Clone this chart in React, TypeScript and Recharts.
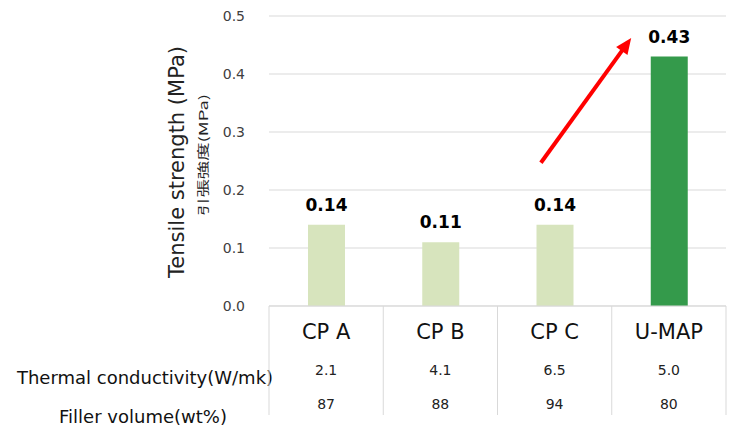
import { BarChart, Bar, Cell, XAxis, YAxis, CartesianGrid, LabelList, ReferenceLine, Customized } from 'recharts';

// 材料名と各値
const categories = ['CP A', 'CP B', 'CP C', 'U-MAP'];
const tensileStrength = [0.14, 0.11, 0.14, 0.43];
const thermalConductivity = ['2.1', '4.1', '6.5', '5.0'];
const fillerVolume = ['87', '88', '94', '80'];
const barColors = ['#D7E4BD', '#D7E4BD', '#D7E4BD', '#349A4B'];
const yTicks = [0, 0.1, 0.2, 0.3, 0.4, 0.5];

// 矢印の始点・終点（カテゴリ＋バンド幅に対するずれ、値）
const arrowFrom = { x: 'CP C', shift: -0.12, y: 0.247 };
const arrowTo = { x: 'U-MAP', shift: -0.33, y: 0.462 };

const data = categories.map((name, i) => ({
  name,
  strength: tensileStrength[i],
  conductivity: thermalConductivity[i],
  filler: fillerVolume[i],
}));

const W = 731;
const H = 430;
const MARGIN = { top: 16, right: 5, bottom: 14, left: 209 };
const Y_AXIS_W = 60;
const X_AXIS_H = 110;
const PLOT_W = W - MARGIN.left - Y_AXIS_W - MARGIN.right;
const BAND = PLOT_W / categories.length;
const FONT = "'DejaVu Sans', Verdana, sans-serif";
const LINE = '#D9D9D9';

// 表形式のX軸目盛り（カテゴリ名・熱伝導率・フィラー量）
const TableTick = (props: any) => {
  const { x, y, payload, index } = props;
  const row = data[index] ?? data[payload.index];
  const left = x - BAND / 2;
  return (
    <g>
      <line x1={left} y1={y} x2={left} y2={y + 109} stroke={LINE} />
      {index === categories.length - 1 && (
        <line x1={left + BAND} y1={y} x2={left + BAND} y2={y + 109} stroke={LINE} />
      )}
      <text x={x} y={y + 33} textAnchor="middle" fontSize={21} fill="#111" fontFamily={FONT}>
        {payload.value}
      </text>
      <text x={x} y={y + 69} textAnchor="middle" fontSize={14} fill="#222" fontFamily={FONT}>
        {row.conductivity}
      </text>
      <text x={x} y={y + 103} textAnchor="middle" fontSize={14} fill="#222" fontFamily={FONT}>
        {row.filler}
      </text>
    </g>
  );
};

// 軸タイトルと表の行見出し
const Titles = () => (
  <g fontFamily={FONT}>
    <text x={177} y={162} transform="rotate(-90 177 162)" textAnchor="middle" dominantBaseline="central" fontSize={21} fill="#222">
      Tensile strength (MPa)
    </text>
    <text
      x={202}
      y={155}
      transform="rotate(-90 202 155)"
      textAnchor="middle"
      dominantBaseline="central"
      fontSize={12}
      fill="#222"
      fontFamily="'Noto Sans CJK JP', sans-serif"
      textLength={122}
      lengthAdjust="spacingAndGlyphs"
    >
      引張強度(MPa)
    </text>
    <text x={145} y={384} textAnchor="middle" fontSize={18} fill="#111">
      Thermal conductivity(W/mk)
    </text>
    <text x={143} y={423} textAnchor="middle" fontSize={18} fill="#111">
      Filler volume(wt%)
    </text>
  </g>
);

const Arrow = (p: any) => {
  const x1 = p.x1 + arrowFrom.shift * BAND;
  const x2 = p.x2 + arrowTo.shift * BAND;
  const { y1, y2 } = p;
  const ang = Math.atan2(y2 - y1, x2 - x1);
  const len = 16;
  const half = 7;
  const bx = x2 - len * Math.cos(ang);
  const by = y2 - len * Math.sin(ang);
  const nx = -Math.sin(ang);
  const ny = Math.cos(ang);
  return (
    <g>
      <line x1={x1} y1={y1} x2={bx + 2 * Math.cos(ang)} y2={by + 2 * Math.sin(ang)} stroke="#FF0000" strokeWidth={4} />
      <polygon
        points={`${x2},${y2} ${bx + nx * half},${by + ny * half} ${bx - nx * half},${by - ny * half}`}
        fill="#FF0000"
      />
    </g>
  );
};

export default function App() {
  return (
    <div style={{ position: 'absolute', left: 0, top: 0, background: '#fff' }}>
      <BarChart width={W} height={H} data={data} margin={MARGIN} style={{ fontFamily: FONT }}>
        <CartesianGrid vertical={false} stroke={LINE} />
        <XAxis
          dataKey="name"
          height={X_AXIS_H}
          axisLine={{ stroke: LINE }}
          tickLine={false}
          tickSize={0}
          tickMargin={0}
          interval={0}
          tick={<TableTick />}
        />
        <YAxis
          width={Y_AXIS_W}
          domain={[0, 0.5]}
          ticks={yTicks}
          tickFormatter={(v: number) => v.toFixed(1)}
          axisLine={false}
          tickLine={false}
          tickSize={0}
          tickMargin={24}
          tick={{ fontSize: 14, fill: '#404040', fontFamily: FONT }}
        />
        <Bar dataKey="strength" barSize={37} isAnimationActive={false}>
          {data.map((d, i) => (
            <Cell key={d.name} fill={barColors[i]} />
          ))}
          <LabelList
            dataKey="strength"
            position="top"
            offset={14}
            formatter={(v: any) => Number(v).toFixed(2)}
            style={{ fontSize: 17, fontWeight: 'bold', fill: '#000', fontFamily: FONT }}
          />
        </Bar>
        <ReferenceLine
          segment={[
            { x: arrowFrom.x, y: arrowFrom.y },
            { x: arrowTo.x, y: arrowTo.y },
          ]}
          ifOverflow="visible"
          shape={(p: any) => <Arrow {...p} />}
        />
        <Customized component={<Titles />} />
      </BarChart>
    </div>
  );
}
